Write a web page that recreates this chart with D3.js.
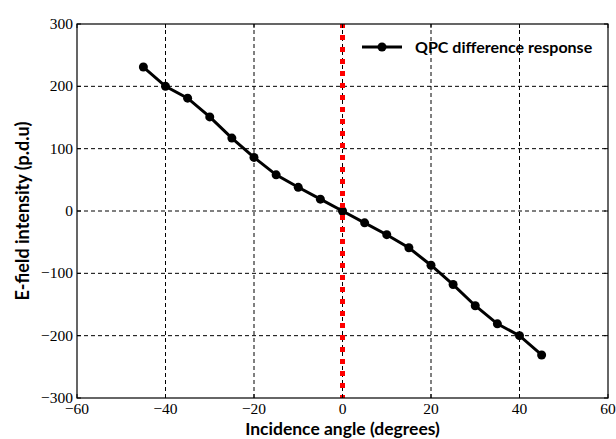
<!DOCTYPE html>
<html>
<head>
<meta charset="utf-8">
<script src="https://cdn.jsdelivr.net/npm/d3@7"></script>
<style>
  body { margin: 0; background: #fff; }
  svg { display: block; }
</style>
</head>
<body>
<div id="chart"></div>
<script>
// incidence angle sweep and the measured response
var angles = [-45, -40, -35, -30, -25, -20, -15, -10, -5, 0, 5, 10, 15, 20, 25, 30, 35, 40, 45];
var response = [231, 200, 181, 151, 117, 86, 58, 38, 19, 0, -19, -38, -59, -87, -118, -152, -181, -200, -231];
var xTicks = [-60, -40, -20, 0, 20, 40, 60];
var yTicks = [-300, -200, -100, 0, 100, 200, 300];
var seriesName = "QPC difference response";
var markerAngle = 0;

var width = 616, height = 439;
var margin = { top: 24, right: 8, bottom: 41, left: 77 };

var svg = d3.select("#chart").append("svg")
    .attr("width", width)
    .attr("height", height);

var x = d3.scaleLinear().domain([-60, 60]).range([margin.left, width - margin.right]);
var y = d3.scaleLinear().domain([-300, 300]).range([height - margin.bottom, margin.top]);

var fmt = function(d) { return d < 0 ? "\u2212" + Math.abs(d) : String(d); };

// grid
var grid = svg.append("g");
grid.selectAll(".gx").data(xTicks.slice(1, -1)).enter().append("line")
    .attr("x1", function(d) { return x(d); })
    .attr("x2", function(d) { return x(d); })
    .attr("y1", y(-300)).attr("y2", y(300))
    .attr("stroke", "#000").attr("stroke-width", 1)
    .attr("stroke-dasharray", "4,3");
grid.selectAll(".gy").data(yTicks.slice(1, -1)).enter().append("line")
    .attr("y1", function(d) { return y(d); })
    .attr("y2", function(d) { return y(d); })
    .attr("x1", x(-60)).attr("x2", x(60))
    .attr("stroke", "#000").attr("stroke-width", 1)
    .attr("stroke-dasharray", "4,3");

// data line + markers
var line = d3.line()
    .x(function(d, i) { return x(angles[i]); })
    .y(function(d) { return y(d); });

svg.append("path")
    .datum(response)
    .attr("d", line)
    .attr("fill", "none")
    .attr("stroke", "#000")
    .attr("stroke-width", 3);

svg.selectAll(".pt").data(response).enter().append("circle")
    .attr("cx", function(d, i) { return x(angles[i]); })
    .attr("cy", function(d) { return y(d); })
    .attr("r", 4.5)
    .attr("fill", "#000");

// red vertical marker
svg.append("line")
    .attr("x1", x(markerAngle)).attr("x2", x(markerAngle))
    .attr("y1", y(-300)).attr("y2", y(300))
    .attr("stroke", "#ff0000")
    .attr("stroke-width", 5)
    .attr("stroke-dasharray", "5,7")
    .attr("stroke-dashoffset", 2);

// frame
svg.append("rect")
    .attr("x", x(-60)).attr("y", y(300))
    .attr("width", x(60) - x(-60))
    .attr("height", y(-300) - y(300))
    .attr("fill", "none")
    .attr("stroke", "#000")
    .attr("stroke-width", 1.2);

// inward ticks
var ticks = svg.append("g").attr("stroke", "#000").attr("stroke-width", 1);
xTicks.forEach(function(d) {
    ticks.append("line").attr("x1", x(d)).attr("x2", x(d)).attr("y1", y(-300)).attr("y2", y(-300) - 4);
    ticks.append("line").attr("x1", x(d)).attr("x2", x(d)).attr("y1", y(300)).attr("y2", y(300) + 4);
});
yTicks.forEach(function(d) {
    ticks.append("line").attr("y1", y(d)).attr("y2", y(d)).attr("x1", x(-60)).attr("x2", x(-60) + 4);
    ticks.append("line").attr("y1", y(d)).attr("y2", y(d)).attr("x1", x(60)).attr("x2", x(60) - 4);
});

// tick labels
var tickFont = "'Liberation Serif', serif";
svg.selectAll(".xl").data(xTicks).enter().append("text")
    .attr("x", function(d) { return x(d); })
    .attr("y", y(-300) + 16)
    .attr("text-anchor", "middle")
    .attr("font-family", tickFont)
    .attr("font-size", 15.5)
    .text(fmt);

svg.selectAll(".yl").data(yTicks).enter().append("text")
    .attr("x", x(-60) - 4)
    .attr("y", function(d) { return y(d) + 5; })
    .attr("text-anchor", "end")
    .attr("font-family", tickFont)
    .attr("font-size", 15.5)
    .text(fmt);

// axis titles
var labelFont = "Lato, 'Open Sans', sans-serif";
svg.append("text")
    .attr("x", (x(-60) + x(60)) / 2)
    .attr("y", 435)
    .attr("text-anchor", "middle")
    .attr("font-family", labelFont)
    .attr("font-weight", "bold")
    .attr("font-size", 17.5)
    .text("Incidence angle (degrees)");

svg.append("text")
    .attr("transform", "translate(29," + ((y(-300) + y(300)) / 2) + ") rotate(-90)")
    .attr("text-anchor", "middle")
    .attr("font-family", labelFont)
    .attr("font-weight", "bold")
    .attr("font-size", 18)
    .text("E-field intensity (p.d.u)");

// legend
var lg = svg.append("g").attr("transform", "translate(362,47)");
lg.append("line").attr("x1", 0).attr("x2", 40).attr("y1", 0).attr("y2", 0)
    .attr("stroke", "#000").attr("stroke-width", 3);
lg.append("circle").attr("cx", 20).attr("cy", 0).attr("r", 4.5).attr("fill", "#000");
lg.append("text")
    .attr("x", 53).attr("y", 6)
    .attr("font-family", labelFont)
    .attr("font-weight", "bold")
    .attr("font-size", 16)
    .text(seriesName);
</script>
</body>
</html>
